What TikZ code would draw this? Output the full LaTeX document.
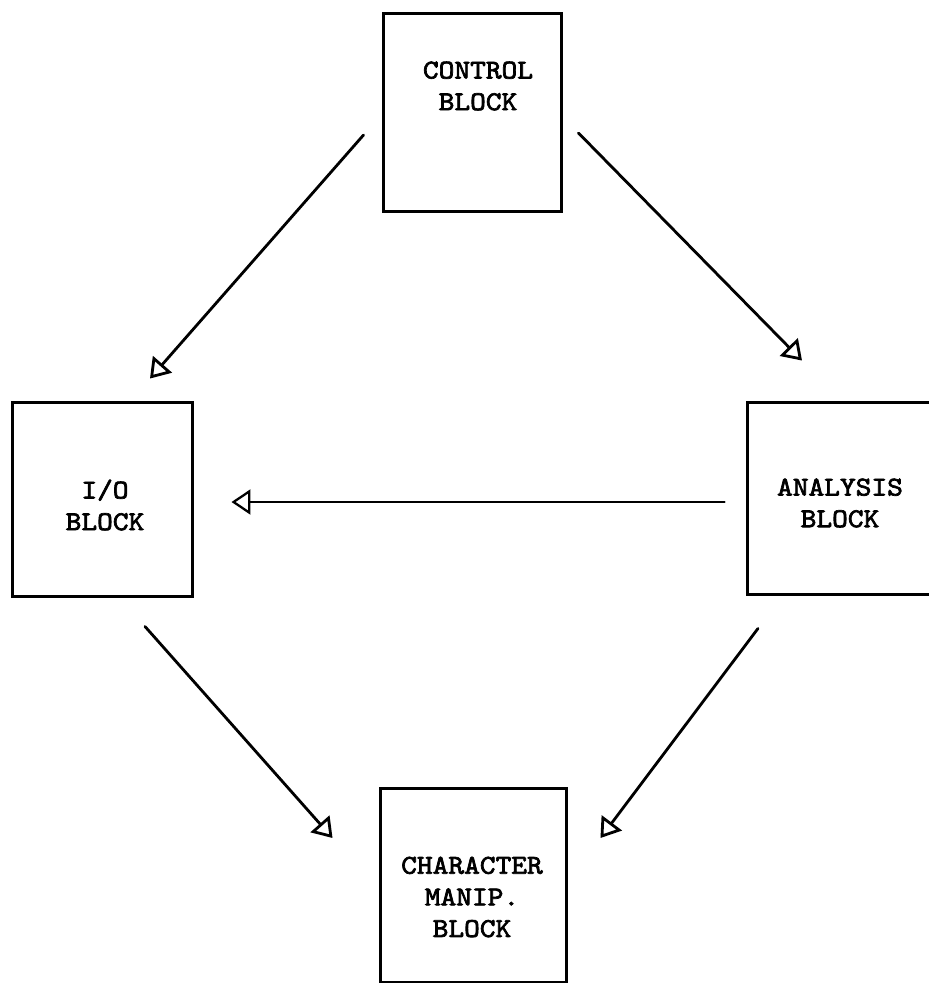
\documentclass[tikz,border=0pt]{standalone}
\usepackage{fontspec}
\newfontfamily\typewriter{lmmono10-regular.otf}[FakeBold=2.6, FakeStretch=1.1]
\usetikzlibrary{arrows.meta, positioning, calc}

\begin{document}
\begin{tikzpicture}[x=0.02cm, y=-0.02cm,
  block/.style={draw, line width=1.7pt, inner sep=0pt},
  lbl/.style={font=\fontsize{15.5}{18}\selectfont\typewriter, align=center, inner sep=0pt},
  flow/.style={line width=1.6pt, line cap=round, -{Triangle[open, length=0.38cm, width=0.5cm]}}]
  \useasboundingbox (0,0) rectangle (929,985);
  \clip (0,0) rectangle (929,985);

  % Blocks
  \node[block, minimum width=3.58cm, minimum height=3.98cm] (ctrl) at (472.5,112.5) {};
  \node[block, minimum width=3.62cm, minimum height=3.90cm] (io) at (102.5,499.5) {};
  \node[block, minimum width=3.76cm, minimum height=3.86cm] (ana) at (841,498.5) {};
  \node[block, minimum width=3.74cm, minimum height=3.88cm] (chr) at (473.5,885) {};

  % Labels
  \node[lbl] (ctrltxt) at (478,86) {CONTROL\\BLOCK};
  \node[lbl] (iotxt) at (105,505) {I/O\\BLOCK};
  \node[lbl] (anatxt) at (840,503) {ANALYSIS\\BLOCK};
  \node[lbl] (chrtxt) at (472,897) {CHARACTER\\MANIP.\\BLOCK};

  % Arrows
  \draw[flow] ($(ctrl.west)+(-18,22.5)$) -- ($(io.north)+(47.5,-22)$);
  \draw[flow] ($(ctrl.east)+(15,20.5)$) -- ($(ana.north)+(-39,-40)$);
  \draw[flow, line width=1.3pt] ($(ana.west)+(-21,3.5)$) -- ($(io.east)+(37,2.5)$);
  \draw[flow] ($(io.south)+(42.5,28)$) -- ($(chr.west)+(-46,-47)$);
  \draw[flow] ($(ana.south)+(-83,32)$) -- ($(chr.east)+(32,-47)$);
\end{tikzpicture}
\end{document}
